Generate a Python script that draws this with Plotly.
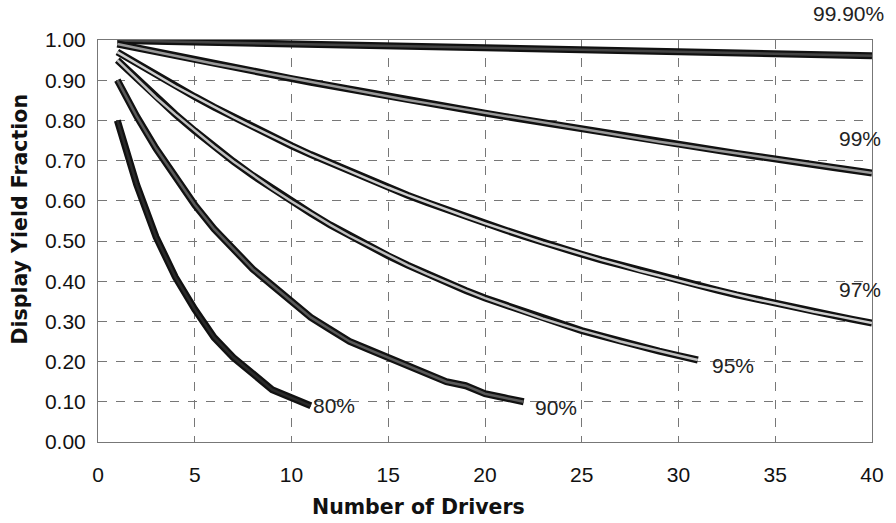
import plotly.graph_objects as go

drivers = list(range(1, 41))

y80 = [0.80, 0.64, 0.51, 0.41, 0.33, 0.26, 0.21, 0.17, 0.13, 0.11, 0.09]
y90 = [0.90, 0.81, 0.73, 0.66, 0.59, 0.53, 0.48, 0.43, 0.39, 0.35, 0.31,
       0.28, 0.25, 0.23, 0.21, 0.19, 0.17, 0.15, 0.14, 0.12, 0.11, 0.10]
y95 = [0.950, 0.903, 0.857, 0.815, 0.774, 0.735, 0.698, 0.663, 0.630, 0.599,
       0.569, 0.540, 0.513, 0.488, 0.463, 0.440, 0.418, 0.397, 0.377, 0.358,
       0.341, 0.324, 0.307, 0.292, 0.277, 0.264, 0.250, 0.238, 0.226, 0.215, 0.204]
y97 = [0.970, 0.941, 0.913, 0.885, 0.859, 0.833, 0.808, 0.784, 0.760, 0.737,
       0.715, 0.694, 0.673, 0.653, 0.633, 0.614, 0.596, 0.578, 0.561, 0.544,
       0.528, 0.512, 0.496, 0.482, 0.467, 0.453, 0.440, 0.426, 0.414, 0.401,
       0.389, 0.378, 0.366, 0.355, 0.345, 0.334, 0.324, 0.315, 0.305, 0.296]
y99 = [0.990, 0.980, 0.970, 0.961, 0.951, 0.941, 0.932, 0.923, 0.914, 0.904,
       0.895, 0.886, 0.878, 0.869, 0.860, 0.851, 0.843, 0.835, 0.826, 0.818,
       0.810, 0.802, 0.794, 0.786, 0.778, 0.770, 0.762, 0.755, 0.747, 0.740,
       0.732, 0.725, 0.718, 0.711, 0.703, 0.696, 0.689, 0.683, 0.676, 0.669]
y999 = [0.999, 0.998, 0.997, 0.996, 0.995, 0.994, 0.993, 0.992, 0.991, 0.990,
        0.989, 0.988, 0.987, 0.986, 0.985, 0.984, 0.983, 0.982, 0.981, 0.980,
        0.979, 0.978, 0.977, 0.976, 0.975, 0.974, 0.973, 0.972, 0.971, 0.970,
        0.969, 0.968, 0.968, 0.967, 0.966, 0.965, 0.964, 0.963, 0.962, 0.961]

series = [
    ("99.90%", y999, "#444444"),
    ("99%", y99, "#9a9a9a"),
    ("97%", y97, "#cfcfcf"),
    ("95%", y95, "#c0c0c0"),
    ("90%", y90, "#5a5a5a"),
    ("80%", y80, "#2a2a2a"),
]

# label text, x (data), y (paper for the top label, data otherwise)
labels = [
    ("99.90%", 38.8, 1.067, "paper"),
    ("99%", 39.4, 0.755, "y"),
    ("97%", 39.4, 0.38, "y"),
    ("95%", 32.8, 0.19, "y"),
    ("90%", 23.65, 0.085, "y"),
    ("80%", 12.2, 0.09, "y"),
]

fig = go.Figure()
for name, ys, inner in series:
    xs = drivers[:len(ys)]
    fig.add_trace(go.Scatter(x=xs, y=ys, mode="lines",
                             line=dict(color="#111111", width=7),
                             showlegend=False, hoverinfo="skip", cliponaxis=False))
    fig.add_trace(go.Scatter(x=xs, y=ys, mode="lines", name=name,
                             line=dict(color=inner, width=2.5),
                             showlegend=False, cliponaxis=False))

for text, x, y, yref in labels:
    fig.add_annotation(x=x, y=y, yref=yref, text=text, showarrow=False,
                       xanchor="center", yanchor="middle",
                       font=dict(family="Liberation Sans, Arial", size=21, color="#222222"))

title_font = dict(family="DejaVu Sans", size=20.5, color="#111111")
fig.add_annotation(text="<b>Number of Drivers</b>", xref="paper", yref="paper",
                   x=0.4146, y=-0.162, showarrow=False, xanchor="center",
                   yanchor="middle", font=title_font)
fig.add_annotation(text="<b>Display Yield Fraction</b>", xref="paper", yref="paper",
                   x=-0.1014, y=0.5547, showarrow=False, xanchor="center",
                   yanchor="middle", textangle=-90, font=title_font)

tick_font = dict(family="Liberation Sans, Arial", size=21, color="#111111")
fig.update_layout(
    width=896, height=523,
    margin=dict(l=98, r=19, t=40, b=81),
    paper_bgcolor="white", plot_bgcolor="white",
    font=tick_font,
    xaxis=dict(range=[0, 40], dtick=5, tick0=0, showgrid=True,
               gridcolor="#777777", griddash="dash", gridwidth=1,
               showline=True, linecolor="#777777", mirror=True,
               zeroline=False, ticks="", ticklabelstandoff=14, tickfont=tick_font),
    yaxis=dict(range=[0, 1.0], dtick=0.1, tick0=0, tickformat=".2f",
               showgrid=True, gridcolor="#777777", griddash="dash", gridwidth=1,
               showline=True, linecolor="#777777", mirror=True,
               zeroline=False, ticks="", ticklabelstandoff=7, tickfont=tick_font),
)

fig.write_html("out.html", config={"displayModeBar": False},
               post_script="document.body.style.margin='0';document.body.style.overflow='hidden';")
